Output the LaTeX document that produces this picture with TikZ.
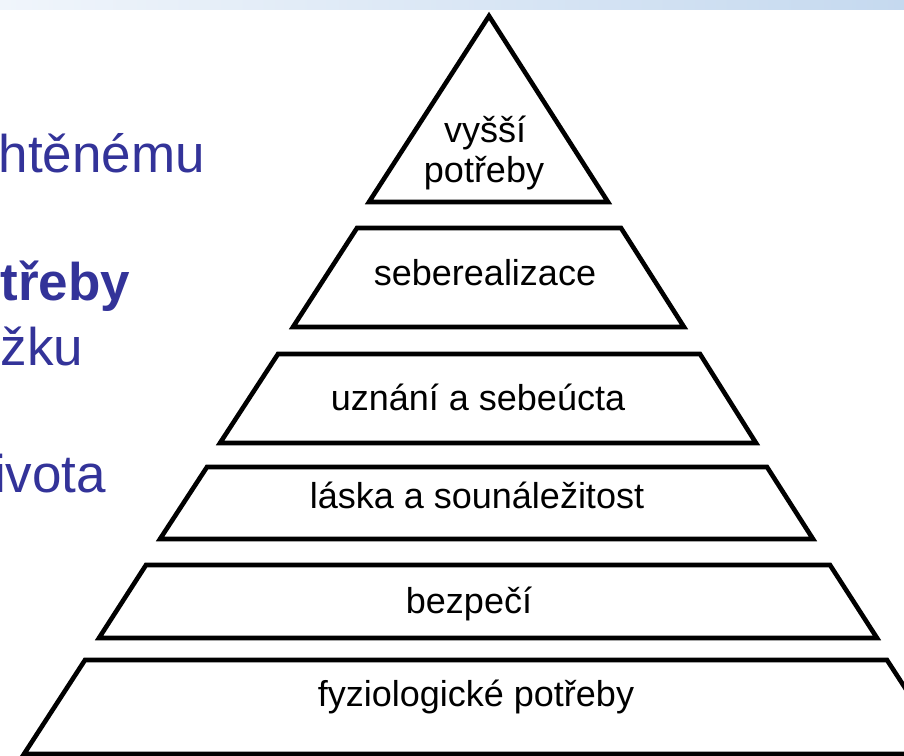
\documentclass[tikz,border=0pt]{standalone}
\usepackage{fontspec}
\setmainfont{Liberation Sans}
\definecolor{slideblue}{RGB}{51,51,153}
\definecolor{barleft}{RGB}{240,245,251}
\definecolor{barmid}{RGB}{225,235,247}
\definecolor{barright}{RGB}{197,217,239}
\begin{document}
\begin{tikzpicture}[x=1pt,y=-1pt,
  level/.style={draw=black, line width=4.6pt, fill=white, line join=miter},
  lbl/.style={font=\fontsize{36}{40}\selectfont, inner sep=0pt, outer sep=0pt, anchor=base},
  side/.style={font=\fontsize{53}{60}\selectfont, text=slideblue, inner sep=0pt, outer sep=0pt, anchor=base east}]
\useasboundingbox (0,0) rectangle (904,755);
\clip (0,0) rectangle (904,755);
\fill[white] (0,0) rectangle (904,755);
\shade[left color=barleft, middle color=barmid, right color=barright] (0,0) rectangle (904,9);
% side text (cut off at the left)
\node[side] (t1) at (205,172) {htěnému};
\node[side, font=\fontsize{53}{60}\selectfont\bfseries] (t2) at (130,300) {třeby};
\node[side] (t3) at (83,365) {žku};
\node[side] (t4) at (106,492) {ivota};
% pyramid levels
\draw[level] (489,16) -- (608,202) -- (369,202) -- cycle;
\draw[level] (357,228) -- (621,228) -- (684,327) -- (293,327) -- cycle;
\draw[level] (278,354) -- (700,354) -- (756,443) -- (220,443) -- cycle;
\draw[level] (207,467) -- (767,467) -- (813,539) -- (160,539) -- cycle;
\draw[level] (146,565) -- (830,565) -- (877,638) -- (99,638) -- cycle;
\draw[level] (85,660) -- (887,660) -- (948,754) -- (24,754) -- cycle;
% labels
\node[lbl] (l1a) at (485,142) {vyšší};
\node[lbl] (l1b) at (484,182) {potřeby};
\node[lbl] (l2) at (485,285) {seberealizace};
\node[lbl] (l3) at (478,410) {uznání a sebeúcta};
\node[lbl] (l4) at (477,508) {láska a sounáležitost};
\node[lbl] (l5) at (469,613) {bezpečí};
\node[lbl] (l6) at (476,706) {fyziologické potřeby};
\end{tikzpicture}
\end{document}
